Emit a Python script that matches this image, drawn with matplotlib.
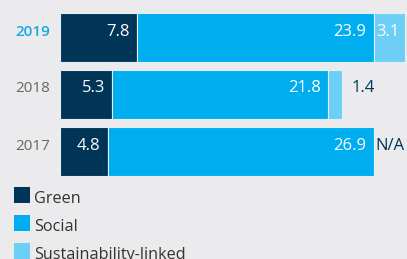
import matplotlib
matplotlib.use("Agg")
import matplotlib.pyplot as plt
from matplotlib.patches import Rectangle

years = ["2017", "2018", "2019"]
green = [4.8, 5.3, 7.8]
social = [26.9, 21.8, 23.9]
sustain = [0.0, 1.4, 3.1]
sustain_labels = ["N/A", "1.4", "3.1"]
categories = ["Green", "Social", "Sustainability-linked"]

BG = "#ebebed"
C_GREEN = "#003557"
C_SOCIAL = "#00adef"
C_SUST = "#6dcff6"
W, H = 407, 259

plt.rcParams['font.family'] = ['Open Sans', 'DejaVu Sans']
fig = plt.figure(figsize=(W / 100, H / 100), dpi=100, facecolor=BG)

# axes spans pixel x 60..407, pixel y 0..180
ax = fig.add_axes([60 / W, (H - 180) / H, (W - 60) / W, 180 / H])
ax.set_facecolor(BG)
px_per_unit = 314 / 31.7
ax.set_xlim(0, (W - 60) / px_per_unit)
ax.set_ylim(-0.5, 2 + 37.5 / 57)
for s in ax.spines.values():
    s.set_visible(False)
ax.set_xticks([])
ax.set_yticks([])

ypos = [0, 1, 2]
h = 0.86
ec = "#e4eef4"
ax.barh(ypos, green, height=h, color=C_GREEN, edgecolor=ec, linewidth=0.8)
ax.barh(ypos, social, left=green, height=h, color=C_SOCIAL, edgecolor=ec, linewidth=0.8)
lefts = [g + s for g, s in zip(green, social)]
ax.barh(ypos, sustain, left=lefts, height=h, color=C_SUST, edgecolor=ec, linewidth=0.8)

pad = 7.5 / px_per_unit
base_off = 2 / 57
for i, y in enumerate(ypos):
    bold = years[i] == "2019"
    wt = "medium" if bold else "normal"
    yb = y + base_off
    ax.text(green[i] - pad, yb, f"{green[i]:.1f}", ha="right", va="baseline",
            color="white", fontsize=12, fontweight=wt)
    ax.text(lefts[i] - pad, yb, f"{social[i]:.1f}", ha="right", va="baseline",
            color="white", fontsize=12, fontweight=wt)
    if sustain[i] >= 2:
        ax.text(lefts[i] + 2 / px_per_unit, yb, sustain_labels[i], ha="left", va="baseline",
                color="white", fontsize=12, fontweight=wt)
    else:
        gap = 9 / px_per_unit if sustain[i] > 0 else 1 / px_per_unit
        ax.text(lefts[i] + sustain[i] + gap, yb, sustain_labels[i], ha="left", va="baseline",
                color=C_GREEN, fontsize=12, fontweight=wt)
    ax.text(-10 / px_per_unit, yb, years[i], ha="right", va="baseline",
            color="#1aa7e0" if bold else "#666666", fontsize=11,
            fontweight="semibold" if bold else "normal", clip_on=False)

# legend
colors = [C_GREEN, C_SOCIAL, C_SUST]
for k, (lab, c) in enumerate(zip(categories, colors)):
    top = 187 + 28 * k
    fig.add_artist(Rectangle((14 / W, (H - top - 16) / H), 16 / W, 16 / H,
                             transform=fig.transFigure, color=c, lw=0))
    fig.text(34 / W, (H - top - 16) / H, lab, ha="left", va="baseline",
             color="#333333", fontsize=11.7)

fig.savefig("out.png", dpi=100, facecolor=BG)
